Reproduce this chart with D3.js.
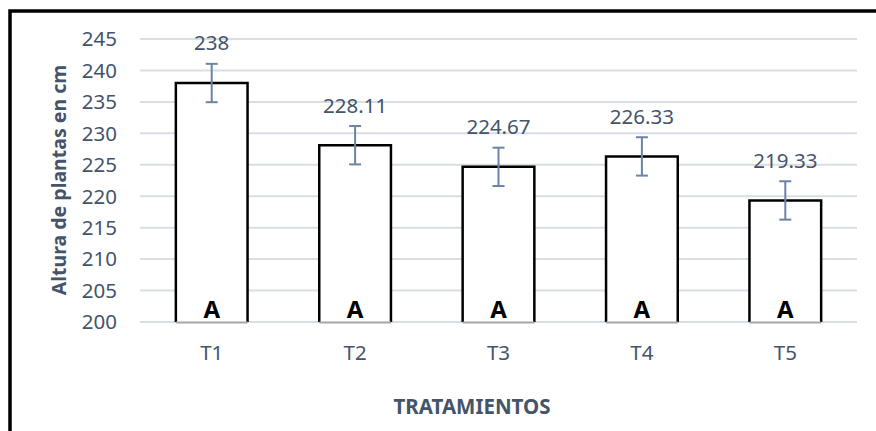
<!DOCTYPE html>
<html lang="es">
<head>
<meta charset="utf-8"/>
<style>
    body { margin: 0; background: #fff; }
    svg { display: block; font-family: "Noto Sans", "Open Sans", sans-serif; }
    .grid line { stroke: #d9dde4; stroke-width: 2px; }
    .tick-label { fill: #44546a; font-size: 20.5px; }
    .axis-title { fill: #44546a; font-weight: bold; }
    .bar { fill: #fff; stroke: #000; stroke-width: 2.5px; }
    .err { stroke: #6b84a3; stroke-width: 2px; }
    .letter { fill: #000; font-weight: bold; font-size: 24px; }
</style>
<script src="https://cdn.jsdelivr.net/npm/d3@7"></script>
</head>
<body>
<svg id="chart" width="876" height="431"></svg>
<script>
// values
var tratamientos = ['T1', 'T2', 'T3', 'T4', 'T5'];
var alturas = [238, 228.11, 224.67, 226.33, 219.33];
var errores = [3.05, 3.05, 3.05, 3.05, 3.05];
var letras = ['A', 'A', 'A', 'A', 'A'];
var yTicks = [200, 205, 210, 215, 220, 225, 230, 235, 240, 245];

var svg = d3.select('#chart');
var plotLeft = 140, plotRight = 857, plotTop = 39, plotBottom = 322;

var x = d3.scaleBand().domain(tratamientos).range([plotLeft, plotRight])
    .paddingInner(0.5).paddingOuter(0.25);
var y = d3.scaleLinear().domain([200, 245]).range([plotBottom, plotTop]);

// frame (only top and left visible)
svg.append('path')
    .attr('d', 'M10,431 V11 H876')
    .attr('fill', 'none').attr('stroke', '#000').attr('stroke-width', 3.5);

// gridlines
svg.append('g').attr('class', 'grid')
    .selectAll('line').data(yTicks).enter().append('line')
    .attr('x1', plotLeft).attr('x2', plotRight)
    .attr('y1', function(d) { return y(d); })
    .attr('y2', function(d) { return y(d); });

// y tick labels
svg.append('g').selectAll('text').data(yTicks).enter().append('text')
    .attr('class', 'tick-label')
    .attr('x', 117).attr('y', function(d) { return y(d); })
    .attr('dy', '0.36em').attr('text-anchor', 'end')
    .text(function(d) { return d; });

// bars: open at the bottom, the grey axis line closes them
var g = svg.append('g').selectAll('g').data(tratamientos).enter().append('g');
g.append('path').attr('class', 'bar')
    .attr('d', function(d, i) {
        var x0 = x(d), x1 = x(d) + x.bandwidth(), yt = y(alturas[i]), yb = y(200);
        return 'M' + x0 + ',' + yb + 'V' + yt + 'H' + x1 + 'V' + yb + 'Z';
    })
    .style('stroke-dasharray', function(d, i) {
        var h = y(200) - y(alturas[i]), w = x.bandwidth();
        return (2 * h + w) + ',' + (w + 1);
    });
g.append('line')
    .attr('x1', function(d) { return x(d); })
    .attr('x2', function(d) { return x(d) + x.bandwidth(); })
    .attr('y1', y(200) + 0.5).attr('y2', y(200) + 0.5)
    .attr('stroke', '#a6a6a6').attr('stroke-width', 2);

// error bars
g.each(function(d, i) {
    var cx = x(d) + x.bandwidth() / 2, hi = y(alturas[i] + errores[i]), lo = y(alturas[i] - errores[i]);
    var e = d3.select(this);
    e.append('line').attr('class', 'err').attr('x1', cx).attr('x2', cx).attr('y1', hi).attr('y2', lo);
    e.append('line').attr('class', 'err').attr('x1', cx - 6).attr('x2', cx + 6).attr('y1', hi).attr('y2', hi);
    e.append('line').attr('class', 'err').attr('x1', cx - 6).attr('x2', cx + 6).attr('y1', lo).attr('y2', lo);
});

// value labels
g.append('text').attr('class', 'tick-label')
    .attr('x', function(d) { return x(d) + x.bandwidth() / 2; })
    .attr('y', function(d, i) { return y(alturas[i]) - 40; })
    .attr('dy', '0.36em').attr('text-anchor', 'middle')
    .text(function(d, i) { return alturas[i]; });

// letters
g.append('text').attr('class', 'letter')
    .attr('x', function(d) { return x(d) + x.bandwidth() / 2; })
    .attr('y', y(200) - 4).attr('text-anchor', 'middle')
    .text(function(d, i) { return letras[i]; });

// x tick labels
g.append('text').attr('class', 'tick-label')
    .attr('x', function(d) { return x(d) + x.bandwidth() / 2; })
    .attr('y', 353).attr('dy', '0.36em').attr('text-anchor', 'middle')
    .text(function(d) { return d; });

// axis titles
svg.append('text').attr('class', 'axis-title')
    .attr('x', 472).attr('y', 407).attr('dy', '0.36em')
    .attr('text-anchor', 'middle').style('font-size', '20.5px')
    .text('TRATAMIENTOS');
svg.append('text').attr('class', 'axis-title')
    .attr('transform', 'translate(59,180) rotate(-90)')
    .attr('dy', '0.36em').attr('text-anchor', 'middle').style('font-size', '19.5px')
    .text('Altura de plantas en cm');
</script>
</body>
</html>
